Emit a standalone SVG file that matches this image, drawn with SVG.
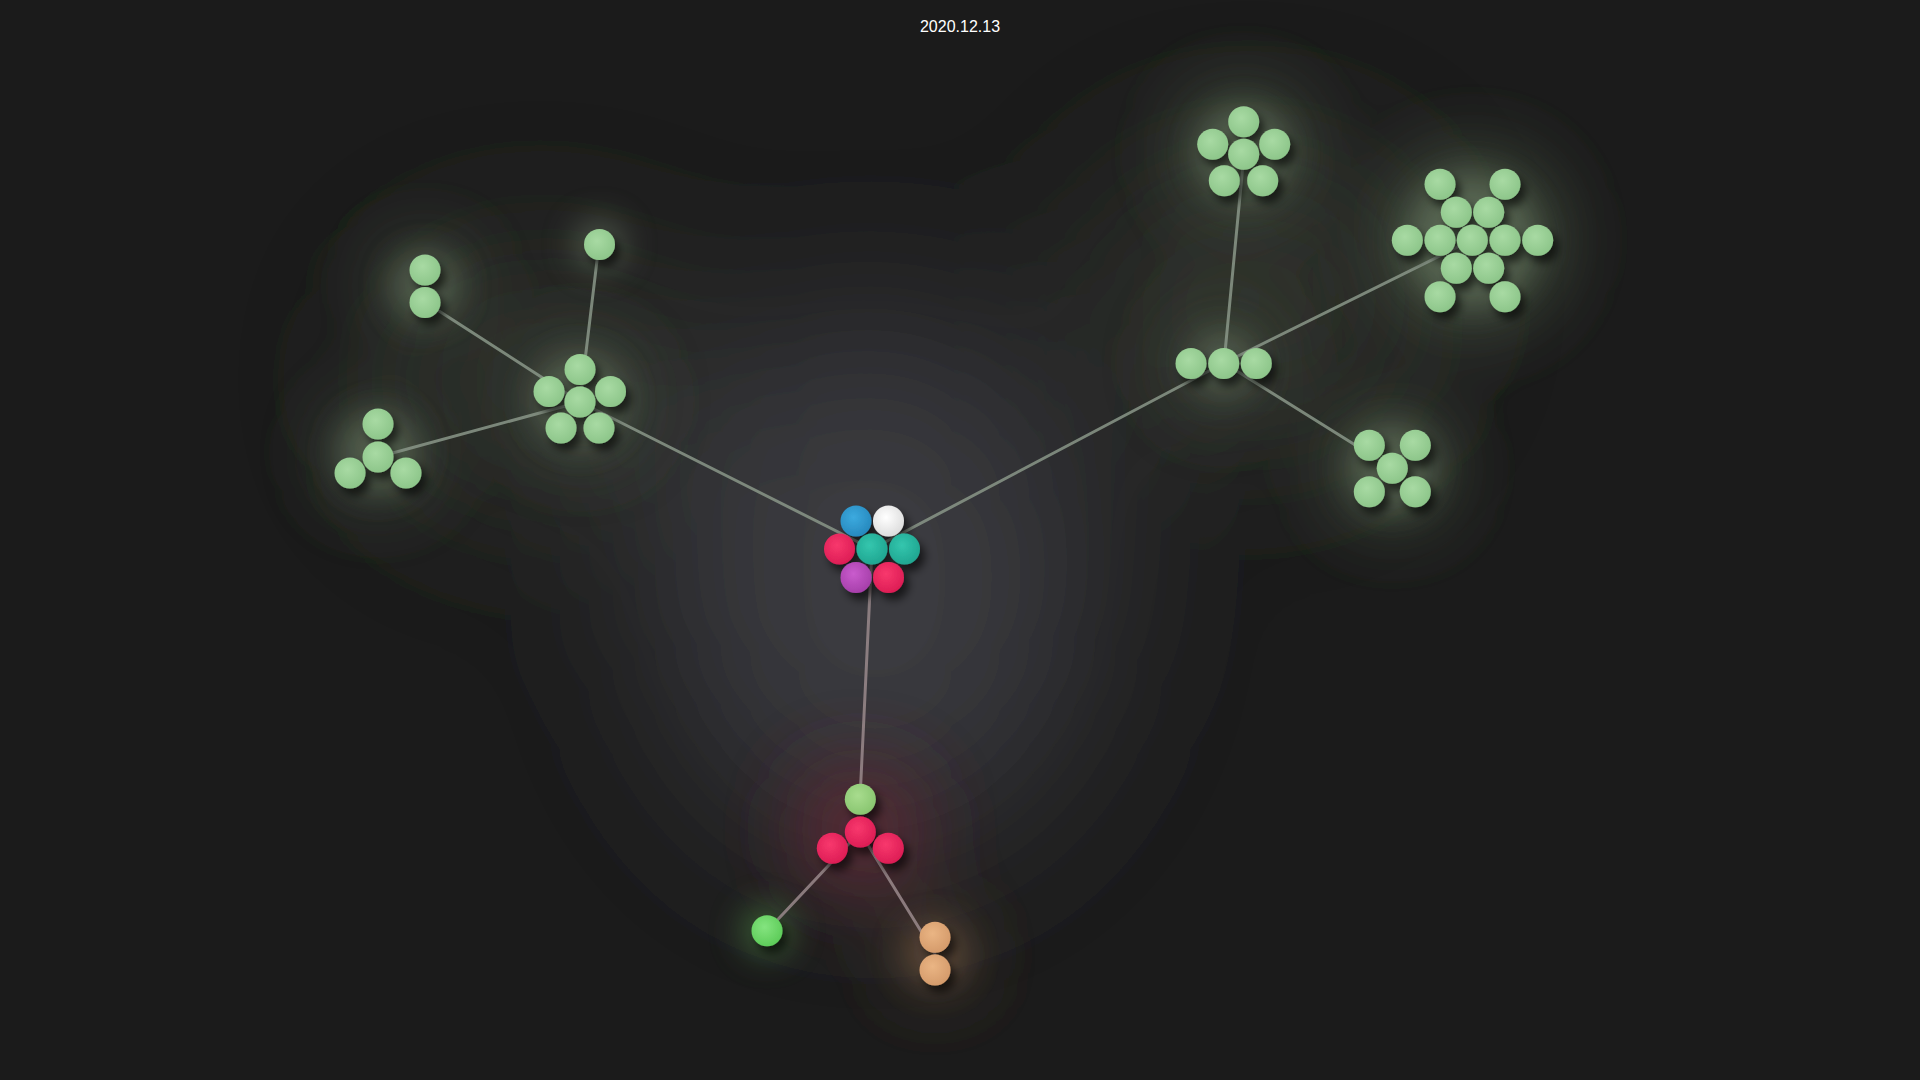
<svg xmlns="http://www.w3.org/2000/svg" width="1920" height="1080" viewBox="0 0 1920 1080">
<defs>
<style>
.edge{stroke:#8a9688;stroke-width:3;stroke-linecap:round;fill:none;opacity:0.85}
.edge-r{stroke:#9a8a8c;stroke-width:3;stroke-linecap:round;fill:none;opacity:0.85}
.n{filter:url(#shadow)}
.g{fill:url(#gGreen)}
.blue{fill:url(#gBlue)}
.white{fill:url(#gWhite)}
.red{fill:url(#gRed)}
.teal{fill:url(#gTeal)}
.purple{fill:url(#gPurple)}
.lime{fill:url(#gLime)}
.bright{fill:url(#gBright)}
.orange{fill:url(#gOrange)}
.halo{fill:#6a7a64}
.title{font-family:"Liberation Sans",Arial,sans-serif;font-size:16px;fill:#ffffff}
</style>
<filter id="shadow" x="-60%" y="-60%" width="220%" height="220%">
<feDropShadow dx="5" dy="7" stdDeviation="4" flood-color="#000" flood-opacity="0.6"/>
</filter>
<filter id="glowBig" x="-50%" y="-50%" width="200%" height="200%">
<feGaussianBlur stdDeviation="90"/>
</filter>
<filter id="glowMid" x="-50%" y="-50%" width="200%" height="200%">
<feGaussianBlur stdDeviation="40"/>
</filter>
<filter id="glowSmall" x="-80%" y="-80%" width="260%" height="260%">
<feGaussianBlur stdDeviation="16"/>
</filter>
<radialGradient id="gGreen" cx="0.42" cy="0.38" r="0.65"><stop offset="0" stop-color="#a8daa3"/><stop offset="1" stop-color="#8cc589"/></radialGradient>
<radialGradient id="gBlue" cx="0.42" cy="0.38" r="0.65"><stop offset="0" stop-color="#3caadf"/><stop offset="1" stop-color="#2688bd"/></radialGradient>
<radialGradient id="gWhite" cx="0.42" cy="0.38" r="0.65"><stop offset="0" stop-color="#ffffff"/><stop offset="1" stop-color="#dcdcdc"/></radialGradient>
<radialGradient id="gRed" cx="0.42" cy="0.38" r="0.65"><stop offset="0" stop-color="#f8386d"/><stop offset="1" stop-color="#dc1c54"/></radialGradient>
<radialGradient id="gTeal" cx="0.42" cy="0.38" r="0.65"><stop offset="0" stop-color="#34c6ae"/><stop offset="1" stop-color="#1fa590"/></radialGradient>
<radialGradient id="gPurple" cx="0.42" cy="0.38" r="0.65"><stop offset="0" stop-color="#c95ccd"/><stop offset="1" stop-color="#a53ea9"/></radialGradient>
<radialGradient id="gLime" cx="0.42" cy="0.38" r="0.65"><stop offset="0" stop-color="#a8dc8e"/><stop offset="1" stop-color="#88c56f"/></radialGradient>
<radialGradient id="gBright" cx="0.42" cy="0.38" r="0.65"><stop offset="0" stop-color="#84e47f"/><stop offset="1" stop-color="#5ccb58"/></radialGradient>
<radialGradient id="gOrange" cx="0.42" cy="0.38" r="0.65"><stop offset="0" stop-color="#eab584"/><stop offset="1" stop-color="#d49a6a"/></radialGradient>
</defs>

<rect width="1920" height="1080" fill="#1b1b1b"/>

<g id="background-glow">
<g filter="url(#glowBig)">
<ellipse cx="875" cy="580" rx="220" ry="270" fill="#3a3a40"/>
<ellipse cx="1250" cy="300" rx="160" ry="140" fill="#30362f"/>
<ellipse cx="540" cy="380" rx="150" ry="120" fill="#30362f"/>
</g>
<g filter="url(#glowMid)">
<circle cx="1243" cy="152" r="60" fill="#475443"/>
<circle cx="1472" cy="240" r="85" fill="#475443"/>
<circle cx="1392" cy="468" r="55" fill="#475443"/>
<circle cx="1223" cy="363" r="50" fill="#3c473a"/>
<circle cx="580" cy="400" r="55" fill="#414c3d"/>
<circle cx="378" cy="452" r="50" fill="#414c3d"/>
<circle cx="425" cy="286" r="40" fill="#475443"/>
<circle cx="860" cy="830" r="65" fill="#5a2b34"/>
<circle cx="935" cy="955" r="35" fill="#554233"/>
</g>
<g filter="url(#glowSmall)" opacity="0.55">
<circle class="halo" cx="599.5" cy="244.5" r="26"/>
<circle class="halo" cx="425" cy="286" r="34"/>
<circle class="halo" cx="378" cy="452" r="40"/>
<circle class="halo" cx="580" cy="400" r="44"/>
<circle class="halo" cx="1243.7" cy="152" r="44"/>
<circle class="halo" cx="1472" cy="240" r="64"/>
<circle class="halo" cx="1392" cy="468" r="42"/>
<circle class="halo" cx="1223" cy="363" r="30"/>
<circle cx="767" cy="930.7" r="26" fill="#4d8a45"/>
<circle cx="935" cy="954" r="32" fill="#7a5d45"/>
</g>
</g>

<g id="connectors">
<line class="edge" x1="872" y1="549" x2="580" y2="402"/>
<line class="edge" x1="872" y1="549" x2="1224" y2="363"/>
<line class="edge-r" x1="872" y1="549" x2="860" y2="799"/>
<line class="edge" x1="580" y1="402" x2="599" y2="244"/>
<line class="edge" x1="580" y1="402" x2="425" y2="302"/>
<line class="edge" x1="580" y1="402" x2="378" y2="457"/>
<line class="edge" x1="1224" y1="363" x2="1244" y2="154"/>
<line class="edge" x1="1224" y1="363" x2="1472" y2="240"/>
<line class="edge" x1="1224" y1="363" x2="1392" y2="468"/>
<line class="edge-r" x1="860" y1="832" x2="767" y2="931"/>
<line class="edge-r" x1="860" y1="832" x2="935" y2="954"/>
</g>

<g id="node-center" class="n">
<circle class="blue" cx="856" cy="521" r="15.5"/>
<circle class="white" cx="888.5" cy="521" r="15.5"/>
<circle class="red" cx="839.5" cy="549" r="15.5"/>
<circle class="teal" cx="872" cy="549" r="15.5"/>
<circle class="teal" cx="904.5" cy="549" r="15.5"/>
<circle class="purple" cx="856" cy="577.5" r="15.5"/>
<circle class="red" cx="888.5" cy="577.5" r="15.5"/>
</g>

<g id="node-left-hub" class="n">
<circle class="g" cx="580" cy="369.5" r="15.5"/>
<circle class="g" cx="549" cy="391.5" r="15.5"/>
<circle class="g" cx="610.5" cy="391.5" r="15.5"/>
<circle class="g" cx="580" cy="402" r="15.5"/>
<circle class="g" cx="561" cy="428" r="15.5"/>
<circle class="g" cx="599" cy="428" r="15.5"/>
</g>

<g id="node-left-single" class="n">
<circle class="g" cx="599.5" cy="244.5" r="15.5"/>
</g>

<g id="node-left-pair" class="n">
<circle class="g" cx="425" cy="270" r="15.5"/>
<circle class="g" cx="425" cy="302.5" r="15.5"/>
</g>

<g id="node-left-four" class="n">
<circle class="g" cx="378" cy="424" r="15.5"/>
<circle class="g" cx="378" cy="457" r="15.5"/>
<circle class="g" cx="350" cy="473" r="15.5"/>
<circle class="g" cx="406" cy="473" r="15.5"/>
</g>

<g id="node-right-hub" class="n">
<circle class="g" cx="1191" cy="363.5" r="15.5"/>
<circle class="g" cx="1223.7" cy="363.5" r="15.5"/>
<circle class="g" cx="1256.3" cy="363.5" r="15.5"/>
</g>

<g id="node-right-top" class="n">
<circle class="g" cx="1243.7" cy="121.7" r="15.5"/>
<circle class="g" cx="1212.7" cy="144.3" r="15.5"/>
<circle class="g" cx="1274.7" cy="144.3" r="15.5"/>
<circle class="g" cx="1243.7" cy="154.3" r="15.5"/>
<circle class="g" cx="1224.3" cy="180.7" r="15.5"/>
<circle class="g" cx="1262.7" cy="180.7" r="15.5"/>
</g>

<g id="node-right-big" class="n">
<circle class="g" cx="1440" cy="184.3" r="15.5"/>
<circle class="g" cx="1505" cy="184.3" r="15.5"/>
<circle class="g" cx="1456.3" cy="212.3" r="15.5"/>
<circle class="g" cx="1488.7" cy="212.3" r="15.5"/>
<circle class="g" cx="1407.3" cy="240.3" r="15.5"/>
<circle class="g" cx="1440" cy="240.3" r="15.5"/>
<circle class="g" cx="1472.3" cy="240.3" r="15.5"/>
<circle class="g" cx="1505" cy="240.3" r="15.5"/>
<circle class="g" cx="1537.7" cy="240.3" r="15.5"/>
<circle class="g" cx="1456.3" cy="268.3" r="15.5"/>
<circle class="g" cx="1488.7" cy="268.3" r="15.5"/>
<circle class="g" cx="1440" cy="296.7" r="15.5"/>
<circle class="g" cx="1505" cy="296.7" r="15.5"/>
</g>

<g id="node-right-five" class="n">
<circle class="g" cx="1369.3" cy="445.3" r="15.5"/>
<circle class="g" cx="1415.3" cy="445.3" r="15.5"/>
<circle class="g" cx="1392.3" cy="468.3" r="15.5"/>
<circle class="g" cx="1369.3" cy="491.7" r="15.5"/>
<circle class="g" cx="1415.3" cy="491.7" r="15.5"/>
</g>

<g id="node-bottom" class="n">
<circle class="lime" cx="860.3" cy="799.3" r="15.5"/>
<circle class="red" cx="860.3" cy="832" r="15.5"/>
<circle class="red" cx="832.3" cy="848.3" r="15.5"/>
<circle class="red" cx="888.3" cy="848.3" r="15.5"/>
</g>

<g id="node-bottom-green" class="n">
<circle class="bright" cx="767" cy="930.7" r="15.5"/>
</g>

<g id="node-bottom-orange" class="n">
<circle class="orange" cx="935" cy="937.3" r="15.5"/>
<circle class="orange" cx="935" cy="970" r="15.5"/>
</g>

<text class="title" x="960" y="32" text-anchor="middle">2020.12.13</text>
</svg>
